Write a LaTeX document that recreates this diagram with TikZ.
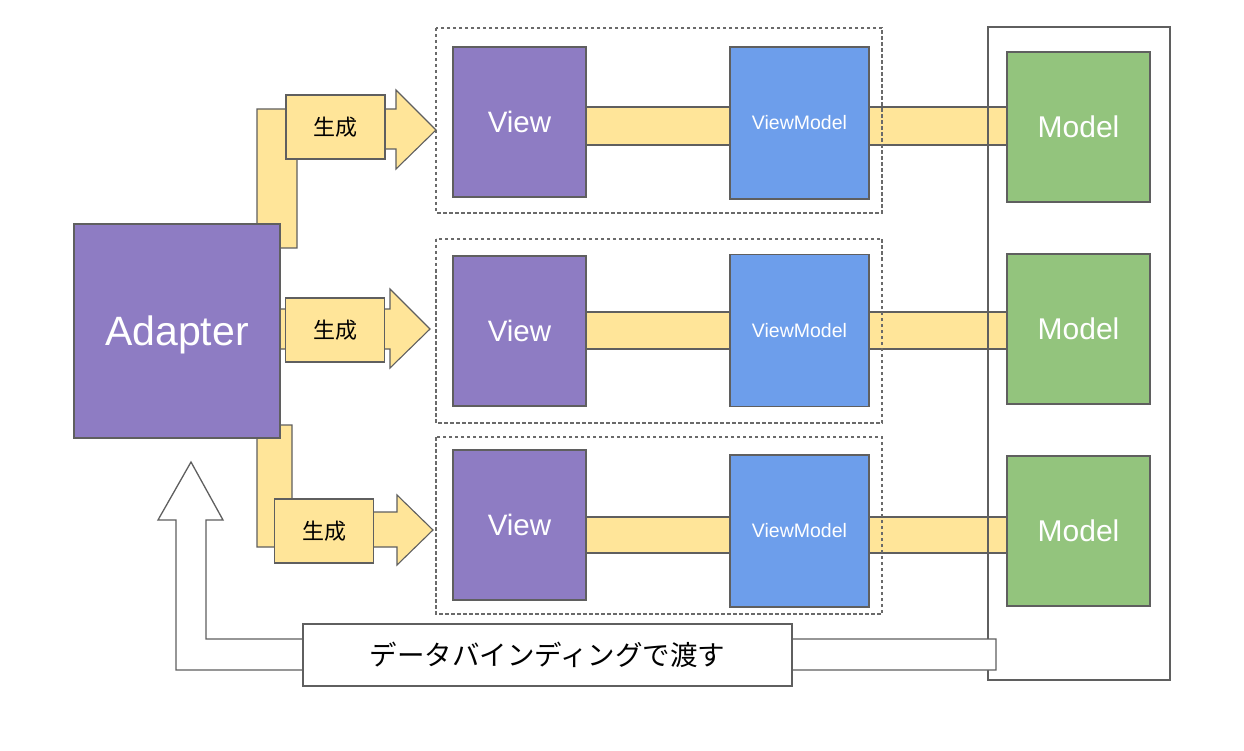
\documentclass[tikz,border=0pt]{standalone}
\usepackage{fontspec}
\usetikzlibrary{backgrounds}
\newfontfamily\arialf{Liberation Sans}
\newfontfamily\jpf{Noto Sans CJK JP}
\definecolor{cpurple}{HTML}{8E7CC3}
\definecolor{cblue}{HTML}{6D9EEB}
\definecolor{cgreen}{HTML}{93C47D}
\definecolor{cyellow}{HTML}{FFE599}
\definecolor{cline}{HTML}{5F5F5F}
\definecolor{cdash}{HTML}{6A6A6A}
\tikzset{
  box/.style={draw=cline, line width=1.3pt, inner sep=0pt, outer sep=0pt, text=white},
  viewbox/.style={box, fill=cpurple, minimum width=133pt, minimum height=150pt, font=\arialf\fontsize{29.5}{32}\selectfont},
  vmbox/.style={box, fill=cblue, minimum width=139pt, minimum height=152pt, font=\arialf\fontsize{19.5}{22}\selectfont},
  modelbox/.style={box, fill=cgreen, minimum width=143pt, minimum height=150pt, font=\arialf\fontsize{30}{32}\selectfont},
  bar/.style={draw=cline, line width=1.1pt, fill=cyellow},
  genbox/.style={draw=cline, line width=1.1pt, fill=cyellow, inner sep=0pt, outer sep=0pt, minimum width=99pt, minimum height=64pt, font=\jpf\fontsize{22}{24}\selectfont, text=black},
  frame/.style={draw=cdash, line width=1.1pt, dash pattern=on 3.5pt off 2.5pt},
  hollow/.style={draw=cline, line width=1.3pt, fill=white},
}
\begin{document}
\begin{tikzpicture}[x=1pt,y=-1pt]
\useasboundingbox (0,0) rectangle (1244,751);
% helper y-levels for bars
\coordinate (t1) at (0,107); \coordinate (b1) at (0,145);
\coordinate (t2) at (0,312); \coordinate (b2) at (0,349);
\coordinate (t3) at (0,517); \coordinate (b3) at (0,553);
% boxes
\node[viewbox] (v1) at (519.5,122) {View};
\node[viewbox] (v2) at (519.5,331) {View};
\node[viewbox] (v3) at (519.5,525) {View};
\node[vmbox] (vm1) at (799.5,123) {ViewModel};
\node[vmbox] (vm2) at (799.5,330.5) {ViewModel};
\node[vmbox] (vm3) at (799.5,531) {ViewModel};
\node[modelbox] (m1) at (1078.5,127) {Model};
\node[modelbox] (m2) at (1078.5,329) {Model};
\node[modelbox] (m3) at (1078.5,531) {Model};
\begin{scope}[on background layer]
\fill[white] (0,0) rectangle (1244,751);
% bars
\draw[bar] (v1.east |- t1) rectangle (vm1.west |- b1);
\draw[bar] (v2.east |- t2) rectangle (vm2.west |- b2);
\draw[bar] (v3.east |- t3) rectangle (vm3.west |- b3);
\draw[bar] (vm1.east |- t1) rectangle (m1.west |- b1);
\draw[bar] (vm2.east |- t2) rectangle (m2.west |- b2);
\draw[bar] (vm3.east |- t3) rectangle (m3.west |- b3);
% frames
\draw[frame] (436,28) rectangle (882,213);
\draw[frame] (436,239) rectangle (882,423);
\draw[frame] (436,437) rectangle (882,614);
\draw[draw=cline, line width=1.3pt] (988,27) rectangle (1170,680);
\end{scope}
% generation arrows
\draw[bar] (257,248) -- (257,109) -- (396,109) -- (396,90) -- (436,130) -- (396,169) -- (396,149) -- (297,149) -- (297,248) -- cycle;
\draw[bar] (270,309) -- (390,309) -- (390,289) -- (430,329) -- (390,368) -- (390,349) -- (270,349) -- cycle;
\draw[bar] (257,425) -- (292,425) -- (292,512) -- (397,512) -- (397,495) -- (433,530) -- (397,565) -- (397,547) -- (257,547) -- cycle;
\node[genbox] (g1) at (335.5,127) {生成};
\node[genbox] (g2) at (335,330) {生成};
\node[genbox] (g3) at (324,531) {生成};
% adapter
\node[box, fill=cpurple, minimum width=206pt, minimum height=214pt, text depth=0pt, font=\arialf\fontsize{41}{44}\selectfont] (ad) at (177,331) {Adapter};
% hollow arrow back to adapter
\draw[hollow] (996,639) -- (206,639) -- (206,520) -- (223,520) -- (191,462) -- (158,520) -- (176,520) -- (176,670) -- (996,670) -- cycle;
\node[draw=cline, line width=1.3pt, fill=white, inner sep=0pt, minimum width=489pt, minimum height=62pt, font=\jpf\fontsize{27.5}{30}\selectfont] (db) at (547.5,655) {データバインディングで渡す};
\end{tikzpicture}
\end{document}
